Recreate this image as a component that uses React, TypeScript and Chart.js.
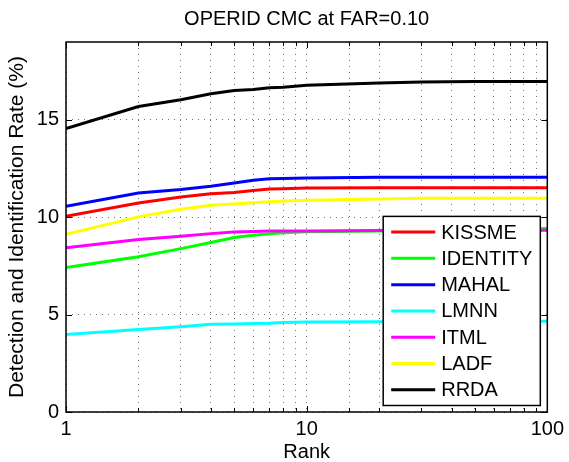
import React, { useEffect, useRef } from 'react';
import { Chart, registerables } from 'chart.js';
Chart.register(...registerables);

const chartTitle = 'OPERID CMC at FAR=0.10';
const xTitle = 'Rank';
const yTitle = 'Detection and Identification Rate (%)';

const ranks = [1, 2, 3, 4, 5, 6, 7, 8, 10, 20, 30, 50, 100];
const seriesNames = ['KISSME', 'IDENTITY', 'MAHAL', 'LMNN', 'ITML', 'LADF', 'RRDA'];
const seriesColors = ['#ff0000', '#00ff00', '#0000ff', '#00ffff', '#ff00ff', '#ffff00', '#000000'];

const kissme = [10.05, 10.73, 11.04, 11.21, 11.27, 11.38, 11.45, 11.47, 11.5, 11.52, 11.52, 11.52, 11.52];
const identity = [7.42, 7.97, 8.39, 8.7, 8.96, 9.08, 9.15, 9.2, 9.25, 9.3, 9.33, 9.36, 9.42];
const mahal = [10.56, 11.25, 11.42, 11.59, 11.76, 11.9, 11.98, 11.99, 12.02, 12.05, 12.05, 12.05, 12.05];
const lmnn = [3.98, 4.24, 4.38, 4.5, 4.52, 4.55, 4.56, 4.6, 4.62, 4.64, 4.65, 4.65, 4.66];
const itml = [8.44, 8.86, 9.03, 9.16, 9.24, 9.27, 9.29, 9.3, 9.3, 9.32, 9.33, 9.33, 9.33];
const ladf = [9.13, 10.02, 10.41, 10.62, 10.68, 10.74, 10.8, 10.84, 10.87, 10.94, 10.97, 10.97, 10.97];
const rrda = [14.55, 15.69, 16.03, 16.34, 16.51, 16.56, 16.65, 16.68, 16.78, 16.89, 16.95, 16.97, 16.97];

const seriesValues = [kissme, identity, mahal, lmnn, itml, ladf, rrda];

const yTickValues = [0, 5, 10, 15];
const xTickLabels = [1, 10, 100];

const FONT = "'Liberation Sans', Arial, sans-serif";

const decorPlugin = {
  id: 'decor',
  afterDatasetsDraw(chart: any) {
    const { ctx, chartArea: a } = chart;
    const xs = chart.scales.x;
    const ys = chart.scales.y;
    ctx.save();
    ctx.strokeStyle = '#000';
    ctx.lineWidth = 1;
    xs.ticks.forEach((t: any) => {
      const px = Math.round(xs.getPixelForValue(t.value)) + 0.5;
      const len = xTickLabels.includes(t.value) ? 6 : 4;
      ctx.beginPath();
      ctx.moveTo(px, a.bottom);
      ctx.lineTo(px, a.bottom - len);
      ctx.moveTo(px, a.top);
      ctx.lineTo(px, a.top + len);
      ctx.stroke();
    });
    yTickValues.forEach((v) => {
      const py = Math.round(ys.getPixelForValue(v)) + 0.5;
      ctx.beginPath();
      ctx.moveTo(a.left, py);
      ctx.lineTo(a.left + 6, py);
      ctx.moveTo(a.right, py);
      ctx.lineTo(a.right - 6, py);
      ctx.stroke();
    });
    ctx.lineWidth = 1.5;
    ctx.strokeRect(a.left, a.top, a.right - a.left, a.bottom - a.top);
    ctx.restore();
  },
  afterDraw(chart: any) {
    const { ctx, chartArea: a } = chart;
    ctx.save();
    ctx.fillStyle = '#000';
    ctx.font = `20px ${FONT}`;
    ctx.textAlign = 'center';
    ctx.textBaseline = 'middle';
    ctx.fillText(chartTitle, (a.left + a.right) / 2, 19);
    ctx.font = `20px ${FONT}`;
    const rowH = 26.3;
    let maxW = 0;
    seriesNames.forEach((n) => { maxW = Math.max(maxW, ctx.measureText(n).width); });
    const lineLen = 44;
    const w = 8 + lineLen + 6 + maxW + 8;
    const h = rowH * seriesNames.length + 5;
    const right = a.right - 7;
    const bottom = a.bottom - 6.5;
    const left = right - w;
    const top = bottom - h;
    ctx.fillStyle = '#fff';
    ctx.fillRect(left, top, w, h);
    ctx.strokeStyle = '#000';
    ctx.lineWidth = 1.5;
    ctx.strokeRect(left, top, w, h);
    ctx.textAlign = 'left';
    ctx.textBaseline = 'middle';
    seriesNames.forEach((n, i) => {
      const cy = top + 2.5 + rowH * (i + 0.5);
      ctx.strokeStyle = seriesColors[i];
      ctx.lineWidth = 3;
      ctx.beginPath();
      ctx.moveTo(left + 8, cy);
      ctx.lineTo(left + 8 + lineLen, cy);
      ctx.stroke();
      ctx.fillStyle = '#000';
      ctx.fillText(n, left + 8 + lineLen + 6, cy + 1);
    });
    ctx.restore();
  },
};

export default function App() {
  const ref = useRef<HTMLCanvasElement>(null);
  useEffect(() => {
    document.body.style.margin = '0';
    const canvas = ref.current!;
    const chart = new Chart(canvas, {
      type: 'line',
      data: {
        datasets: seriesNames.map((name, i) => ({
          label: name,
          data: ranks.map((r, j) => ({ x: r, y: seriesValues[i][j] })),
          borderColor: seriesColors[i],
          backgroundColor: seriesColors[i],
          borderWidth: 3,
          pointRadius: 0,
          tension: 0,
          fill: false,
          order: seriesNames.length - i,
        })),
      },
      options: {
        responsive: false,
        animation: false,
        layout: { padding: { top: 42, right: 18, left: 0, bottom: 0 } },
        plugins: {
          legend: { display: false },
          tooltip: { enabled: false },
          title: { display: false },
        },
        scales: {
          x: {
            type: 'logarithmic',
            min: 1,
            max: 100,
            afterFit: (s: any) => { s.height = 50; },
            ticks: {
              autoSkip: false,
              maxRotation: 0,
              padding: 5,
              color: '#000',
              font: { family: FONT, size: 20 },
              callback: (v: any) => (xTickLabels.includes(Number(v)) ? String(v) : ''),
            },
            grid: { color: 'rgba(0,0,0,0.55)', drawTicks: false, lineWidth: 1 },
            border: { display: false, dash: [1, 5] },
            title: {
              display: true,
              text: xTitle,
              color: '#000',
              font: { family: FONT, size: 20 },
              padding: { top: 0, bottom: -2 },
            },
          },
          y: {
            type: 'linear',
            min: 0,
            max: 19,
            afterFit: (s: any) => { s.width = 66; },
            afterBuildTicks: (s: any) => {
              s.ticks = yTickValues.map((v) => ({ value: v }));
            },
            ticks: {
              stepSize: 5,
              padding: 7,
              color: '#000',
              font: { family: FONT, size: 20 },
            },
            grid: { color: 'rgba(0,0,0,0.55)', drawTicks: false, lineWidth: 1 },
            border: { display: false, dash: [1, 5] },
            title: {
              display: true,
              text: yTitle,
              color: '#000',
              font: { family: FONT, size: 21 },
              padding: { top: 5, bottom: 0 },
            },
          },
        },
      } as any,
      plugins: [decorPlugin],
    });
    return () => chart.destroy();
  }, []);
  return (
    <div style={{ width: 569, height: 462, background: '#fff' }}>
      <canvas ref={ref} width={569} height={462} style={{ display: 'block' }} />
    </div>
  );
}
